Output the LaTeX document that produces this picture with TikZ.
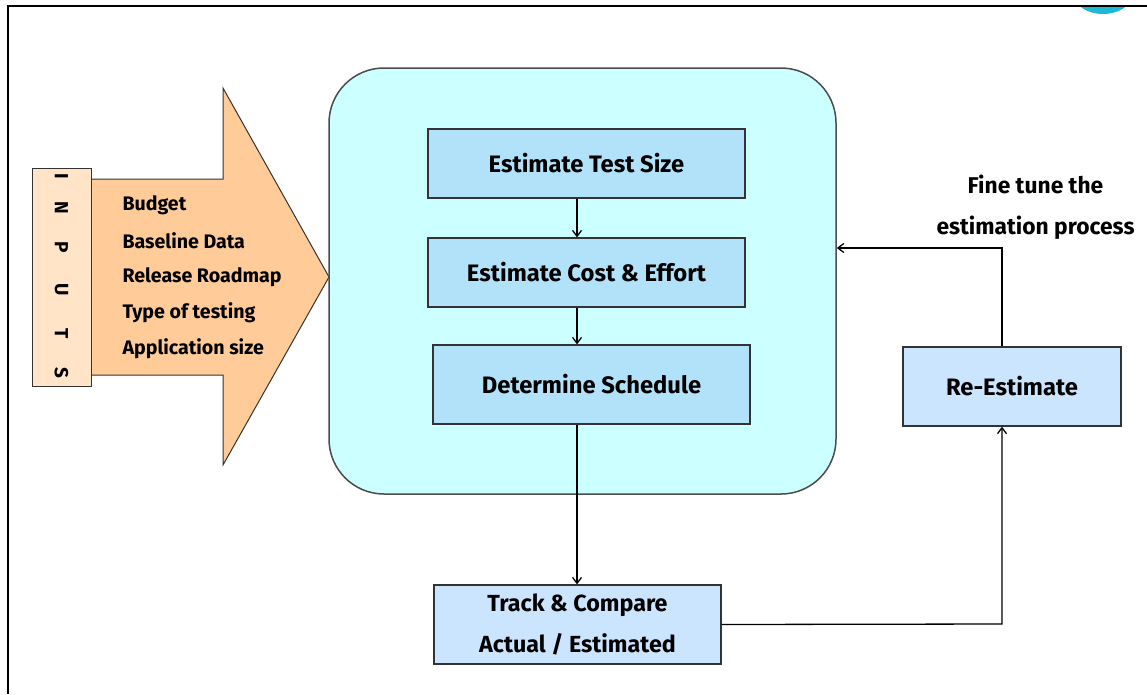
\documentclass[tikz,border=0pt]{standalone}
\usepackage{fontspec}
\setmainfont{Fira Sans}
\usetikzlibrary{arrows.meta}
\begin{document}
\begin{tikzpicture}[x=1pt,y=-1pt,
  every node/.style={font=\bfseries\fontsize{23.8}{26}\selectfont, text=black},
  stepbox/.style={draw=black!80, line width=1.2pt, fill=stepblue},
  lightbox/.style={draw=black!80, line width=1.2pt, fill=trackblue},
  flow/.style={draw=black, line width=1.3pt, -{Straight Barb[length=6pt,width=9pt,line width=1.3pt]}},
  listitem/.style={anchor=west, font=\bfseries\fontsize{19.6}{22}\selectfont}]
\definecolor{stepblue}{RGB}{178,226,250}
\definecolor{trackblue}{RGB}{204,229,255}
\definecolor{panelcyan}{RGB}{204,255,255}
\definecolor{peach}{RGB}{255,204,153}
\definecolor{lightpeach}{RGB}{255,228,200}
\definecolor{tealblob}{RGB}{30,185,215}
\useasboundingbox (0,0) rectangle (1147,694);
% small decorative shape peeking over the top edge
\begin{scope}
  \clip (1060,6) rectangle (1147,20);
  \fill[tealblob] (1103,-4) ellipse (28pt and 18pt);
\end{scope}
% outer frame
\draw[line width=2.6pt] (8,694) -- (8,6) -- (1147,6);
% big input arrow
\draw[fill=peach, draw=black!80, line width=1pt]
  (91,179) -- (223,179) -- (223,88) -- (329,277) -- (223,465) -- (223,375) -- (91,375) -- cycle;
% INPUTS strip
\node[draw=black!80, line width=1pt, fill=lightpeach, minimum width=59pt, minimum height=218pt, inner sep=0pt]
  (inputs) at (61.5,277) {};
\foreach \ch/\yy in {I/176, N/208, P/247, U/290, T/334, S/373}
  \node[rotate=-90, font=\bfseries\fontsize{19}{20}\selectfont] at (61.5,\yy) {\ch};
% list of inputs
\node[listitem] (budget) at (119,205) {Budget};
\node[listitem] (baseline) at (119,241) {Baseline Data};
\node[listitem] (roadmap) at (119,277) {Release Roadmap};
\node[listitem] (typetest) at (119,313) {Type of testing};
\node[listitem] (appsize) at (119,349) {Application size};
% estimation panel
\node[draw=black!70, line width=1.5pt, fill=panelcyan, rounded corners=55pt,
  minimum width=507pt, minimum height=426pt, inner sep=0pt] (panel) at (582.5,281) {};
% process steps
\node[stepbox, minimum width=317pt, minimum height=69pt] (size) at (586.5,163.5) {Estimate Test Size};
\node[stepbox, minimum width=317pt, minimum height=69pt] (cost) at (586.5,272.5) {Estimate Cost \& Effort};
\node[stepbox, minimum width=317pt, minimum height=79pt] (sched) at (591.5,384.5) {Determine Schedule};
\node[lightbox, minimum width=287pt, minimum height=79pt, align=center,
  font=\bfseries\fontsize{23.3}{41}\selectfont] (track) at (577.5,624.5) {Track \& Compare\\Actual / Estimated};
\node[lightbox, minimum width=218pt, minimum height=79pt] (reest) at (1012,386.5) {Re-Estimate};
\node[align=center, font=\bfseries\fontsize{22.8}{41}\selectfont] (finetune) at (1035.5,207) {Fine tune the\\estimation process};
% connectors
\coordinate (x) at (577,0);
\draw[flow] (size.south -| x) -- (cost.north -| x);
\draw[flow] (cost.south -| x) -- (sched.north -| x);
\draw[flow] (sched.south -| x) -- (track.north -| x);
\coordinate (turn1) at (1002,624);
\draw[flow] (track.east) -- (turn1) -- (reest.south -| turn1);
\coordinate (turn2) at (1002,248);
\draw[flow] (reest.north -| turn2) -- (turn2) -- (panel.east |- turn2);
\end{tikzpicture}
\end{document}
